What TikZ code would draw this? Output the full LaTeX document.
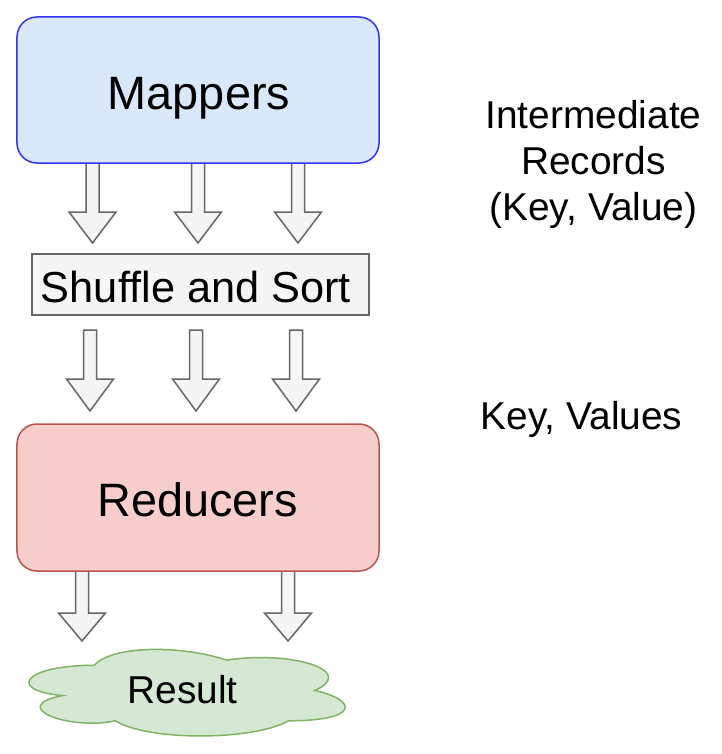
\documentclass[tikz,border=0pt]{standalone}
\usepackage{fontspec}
\setmainfont{Liberation Sans}
\definecolor{mapfill}{HTML}{DAE8FC}
\definecolor{mapline}{HTML}{3333FF}
\definecolor{redfill}{HTML}{F8CECC}
\definecolor{redline}{HTML}{B85450}
\definecolor{grayfill}{HTML}{F5F5F5}
\definecolor{grayline}{HTML}{666666}
\definecolor{resfill}{HTML}{D5E8D4}
\definecolor{resline}{HTML}{82B366}
\newcommand\blkarrow[4]{%
  \draw[blockarrow] ({#1-6.5},#2) -- ({#1+6.5},#2) -- ({#1+6.5},#3) -- ({#1+23.5},#3)
    -- (#1,#4) -- ({#1-23.5},#3) -- ({#1-6.5},#3) -- cycle;}
\tikzset{
  blockarrow/.style={draw=grayline, fill=grayfill, line width=1.5bp, line join=miter},
  bigbox/.style={draw, line width=1.5bp, rounded corners=20bp, minimum width=362bp, minimum height=146bp, inner sep=0pt},
  graybox/.style={draw=grayline, fill=grayfill, line width=1.5bp, minimum width=337bp, minimum height=61bp, inner sep=0pt},
  bigtxt/.style={font=\fontsize{47}{56}\selectfont, inner sep=0pt, anchor=base},
  midtxt/.style={font=\fontsize{43.5}{52}\selectfont, inner sep=0pt, anchor=base},
  smtxt/.style={font=\fontsize{39}{46}\selectfont, inner sep=0pt, anchor=base},
  cloudstyle/.style={draw=resline, fill=resfill, line width=1.5bp}
}
\begin{document}
\begin{tikzpicture}[x=1bp,y=-1bp]
\useasboundingbox (0,0) rectangle (722,754);
% block arrows
\blkarrow{92.5}{163}{212}{243}
\blkarrow{198}{163}{212}{243}
\blkarrow{298}{163}{212}{243}
\blkarrow{90}{330}{379}{411}
\blkarrow{196}{330}{379}{411}
\blkarrow{296}{330}{379}{411}
\blkarrow{82}{571}{613}{641}
\blkarrow{288}{571}{613}{641}
% boxes
\node[bigbox, draw=mapline, fill=mapfill] (mappers) at (198,90) {};
\node[bigtxt] (mapperstxt) at (199,109) {Mappers};
\node[graybox] (shuffle) at (200.5,284.5) {};
\node[midtxt] (shuffletxt) at (196,302) {Shuffle and Sort};
\node[bigbox, draw=redline, fill=redfill, minimum height=147bp] (reducers) at (198,497.5) {};
\node[bigtxt] (reducerstxt) at (197.5,516) {Reducers};
% cloud
\path[cloudstyle] (94.25,665.25)
  .. controls (23.65,665.25) and (6,690.5) .. (62.48,695.55)
  .. controls (6,706.66) and (69.54,730.9) .. (115.43,720.8)
  .. controls (147.2,741) and (253.1,741) .. (288.4,720.8)
  .. controls (359,720.8) and (359,700.6) .. (314.875,690.5)
  .. controls (359,670.3) and (288.4,650.1) .. (226.625,660.2)
  .. controls (182.5,645.05) and (111.9,645.05) .. (94.25,665.25) -- cycle;
\node[smtxt] (result) at (182.5,703) {Result};
% side labels
\node[smtxt] (im1) at (593.5,128) {Intermediate};
\node[smtxt] (im2) at (593.5,174) {Records};
\node[smtxt] (im3) at (593.5,220) {(Key, Value)};
\node[smtxt] (kv) at (581.5,429) {Key, Values};
\end{tikzpicture}
\end{document}
